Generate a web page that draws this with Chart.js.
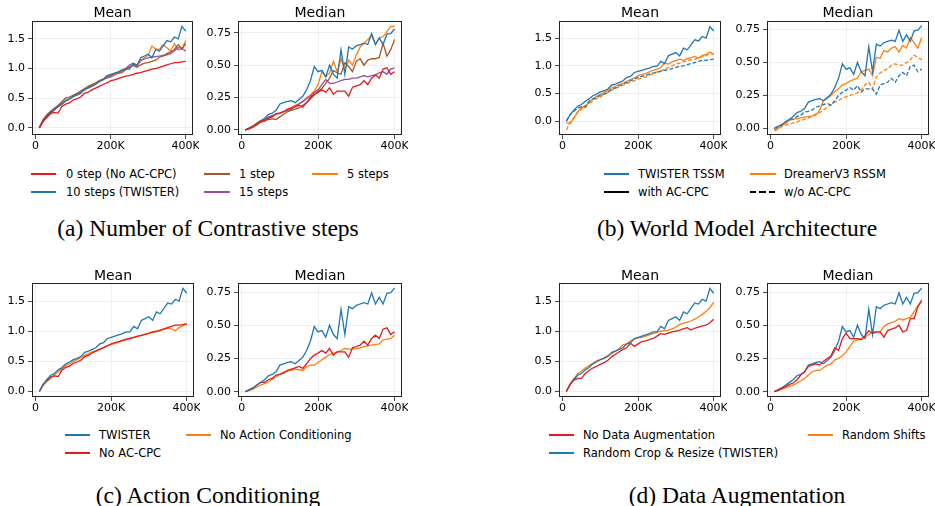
<!DOCTYPE html>
<html>
<head>
<meta charset="utf-8">
<script src="https://cdn.jsdelivr.net/npm/chart.js@4.4.1/dist/chart.umd.min.js"></script>
<style>
  html,body{margin:0;padding:0;background:#fff;}
  #root{position:relative;width:935px;height:506px;overflow:hidden;background:#fff;font-family:"DejaVu Sans",sans-serif;}
  .ttl{position:absolute;font-size:14px;line-height:16px;text-align:center;color:#000;white-space:nowrap;}
  .lg{position:absolute;font-size:11.5px;line-height:14px;color:#000;white-space:nowrap;}
  .lgline{position:absolute;height:2px;}
  .cap{position:absolute;font-family:"Liberation Serif","Times New Roman",serif;font-size:23.5px;line-height:24px;text-align:center;color:#000;white-space:nowrap;}
</style>
</head>
<body>
<div id="root"></div>
<script>
// ---------- data ----------
const steps = [
  10000, 20000, 30000, 40000, 50000, 60000, 70000, 80000, 90000, 100000,
  110000,120000,130000,140000,150000,160000,170000,180000,190000,200000,
  210000,220000,230000,240000,250000,260000,270000,280000,290000,300000,
  310000,320000,330000,340000,350000,360000,370000,380000,390000,400000];
const xTicks = [0, 200000, 400000];
const meanTicks = [0, 0.5, 1.0, 1.5];
const medianTicks = [0, 0.25, 0.5, 0.75];

const twisterMean = [
  0.00,0.12,0.20,0.27,0.30,0.36,0.40,0.46,0.49,0.53,
  0.55,0.58,0.65,0.67,0.70,0.73,0.79,0.81,0.88,0.90,
  0.92,0.94,0.96,0.99,0.99,1.08,1.04,1.18,1.21,1.24,
  1.18,1.32,1.29,1.38,1.47,1.45,1.53,1.50,1.71,1.63];
const twisterMedian = [
  0.00,0.015,0.03,0.05,0.07,0.09,0.12,0.13,0.15,0.20,
  0.21,0.22,0.225,0.21,0.235,0.26,0.31,0.38,0.49,0.45,
  0.46,0.41,0.50,0.43,0.40,0.62,0.43,0.64,0.625,0.65,
  0.66,0.67,0.66,0.745,0.66,0.71,0.66,0.74,0.745,0.78];
const noAcpcMean = [
  0.00,0.12,0.18,0.24,0.26,0.25,0.36,0.40,0.42,0.47,
  0.49,0.52,0.58,0.60,0.64,0.67,0.70,0.73,0.76,0.79,
  0.81,0.83,0.85,0.87,0.88,0.90,0.92,0.93,0.95,0.97,
  0.99,1.00,1.02,1.04,1.06,1.08,1.10,1.10,1.11,1.12];
const noAcpcMedian = [
  0.00,0.012,0.028,0.05,0.07,0.07,0.09,0.10,0.125,0.13,
  0.14,0.16,0.17,0.18,0.19,0.175,0.21,0.25,0.275,0.29,
  0.31,0.29,0.325,0.275,0.30,0.30,0.30,0.26,0.33,0.34,
  0.35,0.38,0.35,0.40,0.425,0.40,0.47,0.48,0.43,0.45];
const step1Mean = [
  0.00,0.14,0.22,0.28,0.33,0.38,0.44,0.50,0.52,0.55,
  0.58,0.62,0.66,0.70,0.73,0.75,0.78,0.81,0.84,0.86,
  0.89,0.92,0.93,0.98,1.02,1.05,1.02,1.06,1.09,1.10,
  1.12,1.14,1.19,1.21,1.25,1.28,1.32,1.40,1.33,1.42];
const step1Median = [
  0.00,0.01,0.02,0.04,0.06,0.07,0.08,0.085,0.08,0.10,
  0.12,0.14,0.15,0.16,0.17,0.19,0.21,0.24,0.27,0.30,
  0.32,0.36,0.40,0.46,0.44,0.43,0.52,0.49,0.45,0.53,
  0.55,0.50,0.54,0.55,0.55,0.56,0.67,0.57,0.62,0.70];
const step5Mean = [
  0.00,0.10,0.17,0.24,0.30,0.35,0.40,0.45,0.48,0.52,
  0.56,0.60,0.64,0.68,0.73,0.76,0.80,0.82,0.86,0.88,
  0.92,0.94,0.98,1.00,1.03,1.06,1.05,1.12,1.18,1.22,
  1.38,1.33,1.32,1.40,1.35,1.30,1.42,1.31,1.33,1.47];
const step5Median = [
  0.00,0.01,0.025,0.04,0.06,0.07,0.09,0.11,0.12,0.13,
  0.14,0.15,0.17,0.19,0.20,0.22,0.25,0.27,0.30,0.35,
  0.45,0.41,0.44,0.53,0.45,0.55,0.46,0.54,0.50,0.58,
  0.64,0.67,0.70,0.73,0.66,0.71,0.72,0.76,0.80,0.80];
const step15Mean = [
  0.00,0.11,0.19,0.25,0.31,0.36,0.41,0.45,0.49,0.53,
  0.57,0.60,0.64,0.68,0.72,0.75,0.79,0.82,0.85,0.88,
  0.92,0.94,0.97,1.00,1.06,1.09,1.06,1.14,1.16,1.18,
  1.19,1.20,1.21,1.22,1.23,1.25,1.30,1.35,1.34,1.29];
const step15Median = [
  0.00,0.01,0.025,0.045,0.065,0.08,0.10,0.11,0.12,0.13,
  0.14,0.15,0.16,0.18,0.20,0.22,0.24,0.26,0.29,0.31,
  0.35,0.39,0.36,0.36,0.37,0.38,0.39,0.39,0.40,0.40,
  0.41,0.42,0.41,0.42,0.425,0.44,0.45,0.43,0.47,0.48];
const dreamerAcpcMean = [
  -0.03,-0.04,0.05,0.17,0.24,0.28,0.33,0.40,0.45,0.48,
  0.52,0.56,0.60,0.63,0.66,0.69,0.72,0.75,0.78,0.82,
  0.84,0.86,0.89,0.92,0.94,0.97,1.05,1.03,1.07,1.10,
  1.12,1.10,1.13,1.15,1.17,1.14,1.19,1.20,1.25,1.21];
const dreamerNoAcpcMean = [
  -0.16,-0.02,0.07,0.16,0.22,0.27,0.32,0.36,0.41,0.44,
  0.48,0.52,0.56,0.59,0.62,0.65,0.68,0.71,0.73,0.76,
  0.78,0.80,0.83,0.86,0.89,0.91,0.94,0.97,1.00,1.03,
  1.05,1.07,1.09,1.11,1.12,1.14,1.16,1.18,1.23,1.20];
const dreamerAcpcMedian = [
  -0.01,0.00,0.02,0.04,0.06,0.07,0.075,0.08,0.085,0.09,
  0.095,0.10,0.14,0.21,0.23,0.25,0.28,0.30,0.33,0.34,
  0.36,0.37,0.38,0.43,0.44,0.45,0.40,0.54,0.53,0.59,
  0.58,0.61,0.62,0.58,0.63,0.61,0.69,0.65,0.61,0.69];
const dreamerNoAcpcMedian = [
  -0.02,-0.005,0.015,0.025,0.035,0.04,0.05,0.06,0.07,0.08,
  0.09,0.11,0.12,0.14,0.16,0.18,0.20,0.21,0.23,0.24,
  0.25,0.26,0.27,0.29,0.33,0.35,0.30,0.39,0.42,0.44,
  0.45,0.48,0.49,0.48,0.48,0.50,0.52,0.555,0.54,0.52];
const noActionCondMean = [
  0.00,0.10,0.17,0.22,0.28,0.33,0.38,0.43,0.46,0.50,
  0.53,0.56,0.60,0.63,0.66,0.68,0.71,0.73,0.76,0.78,
  0.80,0.82,0.84,0.86,0.88,0.90,0.91,0.93,0.95,0.96,
  0.98,0.99,1.01,1.03,1.05,1.04,1.01,1.06,1.09,1.13];
const noActionCondMedian = [
  0.00,0.01,0.02,0.035,0.05,0.06,0.075,0.095,0.11,0.135,
  0.15,0.155,0.16,0.17,0.165,0.16,0.19,0.20,0.20,0.22,
  0.24,0.26,0.28,0.29,0.30,0.31,0.325,0.32,0.32,0.325,
  0.33,0.34,0.345,0.35,0.355,0.36,0.39,0.395,0.40,0.425];
const noAugMean = [
  0.00,0.12,0.19,0.22,0.22,0.30,0.35,0.39,0.42,0.45,
  0.48,0.52,0.58,0.62,0.66,0.70,0.73,0.80,0.75,0.79,
  0.83,0.84,0.86,0.88,0.92,0.96,0.95,0.97,0.99,1.00,
  1.02,1.04,1.06,1.02,1.05,1.07,1.09,1.10,1.14,1.20];
const noAugMedian = [
  0.00,0.01,0.025,0.04,0.055,0.065,0.09,0.125,0.15,0.19,
  0.20,0.21,0.20,0.23,0.25,0.27,0.33,0.31,0.40,0.44,
  0.40,0.40,0.40,0.39,0.42,0.46,0.44,0.45,0.45,0.41,
  0.46,0.47,0.48,0.50,0.45,0.46,0.55,0.55,0.64,0.69];
const randomShiftsMean = [
  0.00,0.13,0.22,0.29,0.34,0.39,0.43,0.47,0.51,0.53,
  0.56,0.60,0.63,0.67,0.71,0.78,0.79,0.84,0.87,0.89,
  0.90,0.92,0.94,0.96,0.98,1.00,1.01,1.02,1.04,1.07,
  1.11,1.13,1.15,1.17,1.20,1.24,1.28,1.33,1.39,1.48];
const randomShiftsMedian = [
  0.00,0.01,0.02,0.03,0.04,0.05,0.065,0.08,0.10,0.125,
  0.15,0.16,0.16,0.18,0.20,0.21,0.24,0.25,0.27,0.30,
  0.34,0.38,0.39,0.40,0.41,0.43,0.45,0.45,0.45,0.49,
  0.51,0.52,0.53,0.55,0.54,0.55,0.56,0.60,0.65,0.675];

// ---------- styles ----------
const BLUE = '#1f77b4', ORANGE = '#ff7f0e', RED = '#e41a1c', BROWN = '#a65628', PURPLE = '#984ea3';
const DASH = [4, 2];
const root = document.getElementById('root');

const framePlugin = {
  id: 'frame',
  afterDraw(chart) {
    const a = chart.chartArea, ctx = chart.ctx;
    ctx.save();
    ctx.strokeStyle = '#222';
    ctx.lineWidth = 1;
    ctx.strokeRect(Math.round(a.left) + 0.5, Math.round(a.top) + 0.5,
                   Math.round(a.right - a.left) - 1, Math.round(a.bottom - a.top) - 1);
    ctx.restore();
  }
};

const YW = 42, TOPPAD = 21, XH = 22, RPAD = 6;

function panel(area, yMin, yMax, yTicks, yDec, title, series) {
  const W = area.r - area.l + YW + RPAD;
  const H = area.b - area.t + TOPPAD + XH;
  const wrap = document.createElement('div');
  wrap.style.cssText = `position:absolute;left:${area.l - YW}px;top:${area.t - TOPPAD}px;width:${W}px;height:${H}px;`;
  const cv = document.createElement('canvas');
  cv.width = W; cv.height = H;
  cv.style.width = W + 'px'; cv.style.height = H + 'px';
  wrap.appendChild(cv);
  root.appendChild(wrap);

  const t = document.createElement('div');
  t.className = 'ttl';
  t.textContent = title;
  t.style.left = area.l + 'px';
  t.style.width = (area.r - area.l) + 'px';
  t.style.top = (area.t - (area.t > 100 ? 16 : 17)) + 'px';
  root.appendChild(t);

  const tickFont = { family: 'DejaVu Sans', size: 11 };
  new Chart(cv.getContext('2d'), {
    type: 'line',
    data: {
      datasets: series.map(s => ({
        label: s.label,
        data: steps.map((x, i) => ({ x: x, y: s.values[i] })),
        borderColor: s.color,
        borderWidth: 1.3,
        borderDash: s.dash || [],
        pointRadius: 0,
        fill: false,
        tension: 0
      }))
    },
    options: {
      responsive: false,
      animation: false,
      events: [],
      layout: { padding: { left: 0, top: TOPPAD, right: RPAD, bottom: 0 } },
      plugins: { legend: { display: false }, tooltip: { enabled: false }, title: { display: false } },
      scales: {
        x: {
          type: 'linear', min: -9500, max: 419500,
          afterBuildTicks: s => { s.ticks = xTicks.map(v => ({ value: v })); },
          afterFit: s => { s.height = XH; s.paddingLeft = 0; s.paddingRight = 0; },
          ticks: { autoSkip: false, maxRotation: 0, minRotation: 0, padding: 1, color: '#000', font: tickFont,
                   callback: v => v === 0 ? '0' : (v / 1000) + 'K' },
          grid: { color: '#ebebeb', lineWidth: 0.8, tickColor: '#222', tickLength: 4, drawTicks: true },
          border: { display: false }
        },
        y: {
          type: 'linear', min: yMin, max: yMax,
          afterBuildTicks: s => { s.ticks = yTicks.map(v => ({ value: v })); },
          afterFit: s => { s.width = YW; s.paddingTop = 0; s.paddingBottom = 0; },
          ticks: { autoSkip: false, padding: 3, color: '#000', font: tickFont,
                   callback: v => Number(v).toFixed(yDec) },
          grid: { color: '#ebebeb', lineWidth: 0.8, tickColor: '#222', tickLength: 4, drawTicks: true },
          border: { display: false }
        }
      }
    },
    plugins: [framePlugin]
  });
}

function legendItem(x1, x2, tx, y, color, label, dashed) {
  const ln = document.createElement('div');
  ln.className = 'lgline';
  ln.style.left = x1 + 'px';
  ln.style.width = (x2 - x1) + 'px';
  ln.style.top = (y - 1) + 'px';
  ln.style.background = dashed
    ? `repeating-linear-gradient(to right, ${color} 0px, ${color} 6px, transparent 6px, transparent 9.5px)`
    : color;
  root.appendChild(ln);
  const tx1 = document.createElement('div');
  tx1.className = 'lg';
  tx1.textContent = label;
  tx1.style.left = tx + 'px';
  tx1.style.top = (y - 7.5) + 'px';
  root.appendChild(tx1);
}
function caption(cx, top, text) {
  const c = document.createElement('div');
  c.className = 'cap';
  c.textContent = text;
  c.style.left = (cx - 250) + 'px';
  c.style.width = '500px';
  c.style.top = top + 'px';
  root.appendChild(c);
}

// ---------- (a) Number of Contrastive steps ----------
const aSeries = (m) => [
  { label: '0 step (No AC-CPC)', color: RED, values: m ? noAcpcMean : noAcpcMedian },
  { label: '10 steps (TWISTER)', color: BLUE, values: m ? twisterMean : twisterMedian },
  { label: '1 step', color: BROWN, values: m ? step1Mean : step1Median },
  { label: '15 steps', color: PURPLE, values: m ? step15Mean : step15Median },
  { label: '5 steps', color: ORANGE, values: m ? step5Mean : step5Median }
];
panel({ l: 32, t: 21, r: 193, b: 135 }, -0.12, 1.80, meanTicks, 1, 'Mean', aSeries(true));
panel({ l: 238, t: 21, r: 402, b: 135 }, -0.04, 0.842, medianTicks, 2, 'Median', aSeries(false));

// ---------- (b) World Model Architecture ----------
panel({ l: 559, t: 21, r: 721, b: 135 }, -0.25, 1.81, meanTicks, 1, 'Mean', [
  { label: 'TWISTER TSSM with AC-CPC', color: BLUE, values: twisterMean },
  { label: 'TWISTER TSSM w/o AC-CPC', color: BLUE, dash: DASH, values: noAcpcMean },
  { label: 'DreamerV3 RSSM with AC-CPC', color: ORANGE, values: dreamerAcpcMean },
  { label: 'DreamerV3 RSSM w/o AC-CPC', color: ORANGE, dash: DASH, values: dreamerNoAcpcMean }
]);
panel({ l: 767, t: 21, r: 929, b: 135 }, -0.05, 0.815, medianTicks, 2, 'Median', [
  { label: 'TWISTER TSSM with AC-CPC', color: BLUE, values: twisterMedian },
  { label: 'TWISTER TSSM w/o AC-CPC', color: BLUE, dash: DASH, values: noAcpcMedian },
  { label: 'DreamerV3 RSSM with AC-CPC', color: ORANGE, values: dreamerAcpcMedian },
  { label: 'DreamerV3 RSSM w/o AC-CPC', color: ORANGE, dash: DASH, values: dreamerNoAcpcMedian }
]);

// ---------- (c) Action Conditioning ----------
const cSeries = (m) => [
  { label: 'TWISTER', color: BLUE, values: m ? twisterMean : twisterMedian },
  { label: 'No AC-CPC', color: RED, values: m ? noAcpcMean : noAcpcMedian },
  { label: 'No Action Conditioning', color: ORANGE, values: m ? noActionCondMean : noActionCondMedian }
];
panel({ l: 32, t: 283, r: 194, b: 397 }, -0.09, 1.80, meanTicks, 1, 'Mean', cSeries(true));
panel({ l: 238, t: 283, r: 402, b: 397 }, -0.04, 0.818, medianTicks, 2, 'Median', cSeries(false));

// ---------- (d) Data Augmentation ----------
const dSeries = (m) => [
  { label: 'No Data Augmentation', color: RED, values: m ? noAugMean : noAugMedian },
  { label: 'Random Crop & Resize (TWISTER)', color: BLUE, values: m ? twisterMean : twisterMedian },
  { label: 'Random Shifts', color: ORANGE, values: m ? randomShiftsMean : randomShiftsMedian }
];
panel({ l: 559, t: 283, r: 721, b: 397 }, -0.09, 1.80, meanTicks, 1, 'Mean', dSeries(true));
panel({ l: 767, t: 283, r: 929, b: 397 }, -0.04, 0.818, medianTicks, 2, 'Median', dSeries(false));

// ---------- legends ----------
legendItem(31, 56, 66, 174, RED, '0 step (No AC-CPC)');
legendItem(31, 56, 66, 192, BLUE, '10 steps (TWISTER)');
legendItem(204, 230, 239, 174, BROWN, '1 step');
legendItem(204, 230, 239, 192, PURPLE, '15 steps');
legendItem(312, 338, 347, 174, ORANGE, '5 steps');

legendItem(604, 629, 638, 174, BLUE, 'TWISTER TSSM');
legendItem(604, 629, 638, 192, '#000', 'with AC-CPC');
legendItem(750, 776, 784, 174, ORANGE, 'DreamerV3 RSSM');
legendItem(750, 776, 784, 192, '#000', 'w/o AC-CPC', true);

legendItem(65, 90, 99, 435, BLUE, 'TWISTER');
legendItem(65, 90, 99, 453, RED, 'No AC-CPC');
legendItem(186, 211, 220, 435, ORANGE, 'No Action Conditioning');

legendItem(549, 574, 583, 435, RED, 'No Data Augmentation');
legendItem(549, 574, 583, 453, BLUE, 'Random Crop & Resize (TWISTER)');
legendItem(808, 833, 842, 435, ORANGE, 'Random Shifts');

// ---------- captions ----------
caption(208, 216, '(a) Number of Contrastive steps');
caption(737, 216, '(b) World Model Architecture');
caption(208, 483, '(c) Action Conditioning');
caption(737, 483, '(d) Data Augmentation');
</script>
</body>
</html>
